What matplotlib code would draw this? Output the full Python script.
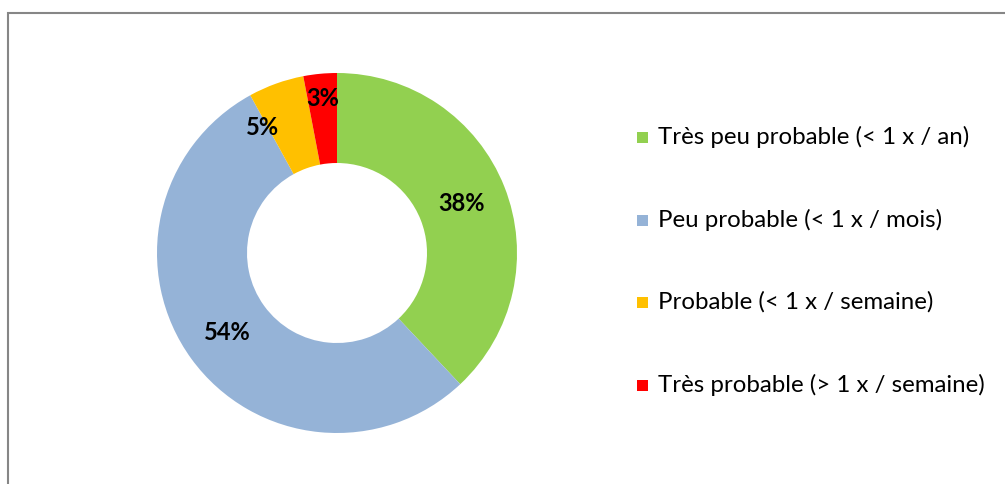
import matplotlib
matplotlib.use("Agg")
import matplotlib.pyplot as plt
from matplotlib.patches import Rectangle
import numpy as np

categories = ["Très peu probable (< 1 x / an)", "Peu probable (< 1 x / mois)",
              "Probable (< 1 x / semaine)", "Très probable (> 1 x / semaine)"]
values = [38, 54, 5, 3]
labels = ["38%", "54%", "5%", "3%"]
colors = ["#92D050", "#95B3D7", "#FFC000", "#FF0000"]

W, H = 1005, 484
fig = plt.figure(figsize=(W / 100, H / 100), dpi=100)
ax = fig.add_axes([0, 0, 1, 1])

cx, cy, R = 337, 253, 180
wedges, _ = ax.pie(values, colors=colors, startangle=90, counterclock=False,
                   radius=R, center=(cx, H - cy), frame=True,
                   wedgeprops=dict(width=R * 0.5, linewidth=0))
ax.set_xlim(0, W)
ax.set_ylim(0, H)
ax.set_aspect("equal")
ax.axis("off")

# outer frame (chart area border), clipped at right and bottom like the reference
ax.add_patch(Rectangle((8, -20), W + 20, H - 13 + 20, fill=False, ec="#868686", lw=1.5))

font = ["Lato", "DejaVu Sans"]
# label placement: (radius factor, angle offset in degrees)
label_adj = [(0.745, 0), (0.75, 0), (0.81, 11), (0.86, 0)]
for w, lab, (rf, da) in zip(wedges, labels, label_adj):
    ang = np.deg2rad((w.theta1 + w.theta2) / 2 + da)
    x = cx + rf * R * np.cos(ang)
    y = (H - cy) + rf * R * np.sin(ang)
    ax.text(x, y, lab, ha="center", va="center", fontsize=17, fontweight="bold",
            family=font, color="black")

# legend
ys = [137, 220, 302, 385]
for cat, col, yy in zip(categories, colors, ys):
    ax.add_patch(Rectangle((637, H - yy - 6), 11, 11, color=col, lw=0))
    ax.text(658, H - yy, cat, ha="left", va="center", fontsize=17.3, family=font, color="black")

fig.savefig("out.png", dpi=100)
